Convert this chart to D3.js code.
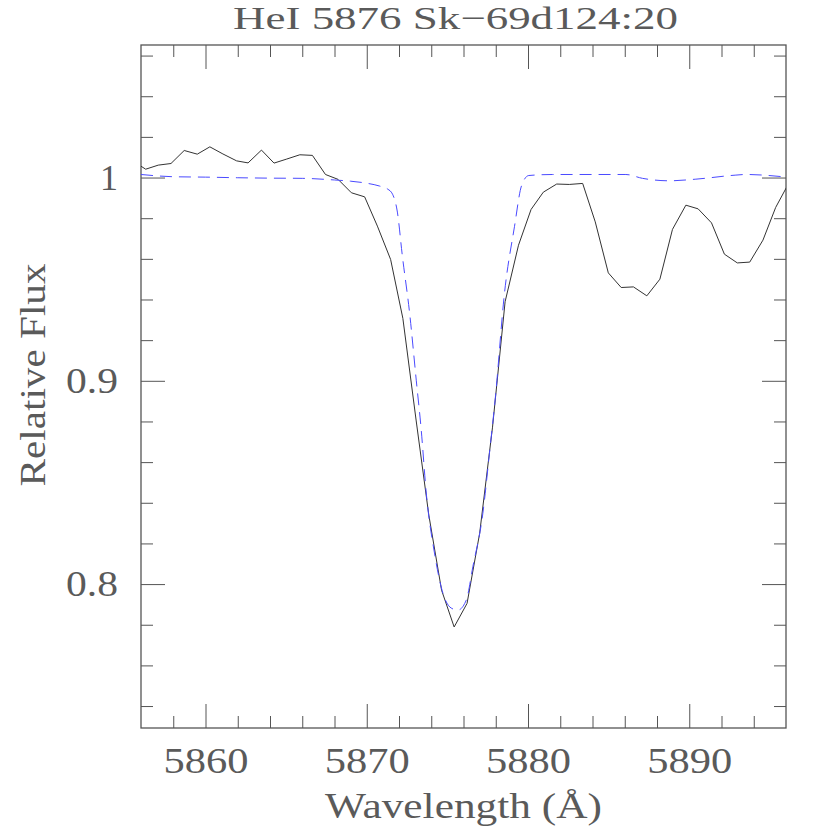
<!DOCTYPE html>
<html>
<head>
<meta charset="utf-8">
<script src="https://cdn.jsdelivr.net/npm/d3@7"></script>
<style>
  html, body { margin: 0; padding: 0; background: #fff; }
  svg { display: block; }
</style>
</head>
<body>
<div id="chart"></div>
<script>
'use strict';

// observed spectrum (black, solid)
var obsWave = [5855.50, 5856.29, 5857.07, 5857.86, 5858.68, 5859.49, 5860.27, 5861.08, 5861.93, 5862.64,
  5863.47, 5864.25, 5865.04, 5865.85, 5866.63, 5867.44, 5868.22, 5869.05, 5869.87, 5870.66,
  5871.48, 5872.24, 5873.06, 5873.85, 5874.64, 5875.42, 5876.22, 5877.00, 5877.80, 5878.58,
  5879.41, 5880.19, 5880.95, 5881.78, 5882.56, 5883.39, 5884.17, 5884.98, 5885.78, 5886.54,
  5887.37, 5888.18, 5888.96, 5889.79, 5890.55, 5891.38, 5892.18, 5892.98, 5893.75, 5894.57,
  5895.36, 5896.15];
var obsFlux = [1.0081, 1.0041, 1.0061, 1.0069, 1.0133, 1.0115, 1.0151, 1.0116, 1.0082, 1.0072,
  1.0135, 1.0071, 1.0091, 1.0112, 1.0109, 1.0015, 0.9991, 0.9925, 0.9905, 0.9761,
  0.9597, 0.9307, 0.8807, 0.8339, 0.7970, 0.7789, 0.7905, 0.8249, 0.8772, 0.9389,
  0.9667, 0.9843, 0.9928, 0.9968, 0.9966, 0.9971, 0.9782, 0.9531, 0.9459, 0.9462,
  0.9418, 0.9500, 0.9745, 0.9864, 0.9846, 0.9777, 0.9623, 0.9580, 0.9584, 0.9692,
  0.9853, 0.9969];

// model profile (blue, dashed)
var modelWave = [5856.0, 5858.0, 5860.0, 5862.0, 5864.0, 5866.0, 5868.0, 5869.0, 5870.0, 5870.8,
  5871.3, 5871.6, 5871.9, 5872.2, 5872.66, 5873.07, 5873.38, 5873.69, 5874.20, 5874.72,
  5875.24, 5875.65, 5876.17, 5876.58, 5877.20, 5877.61, 5877.98, 5878.54, 5879.16, 5879.60,
  5880.05, 5881.53, 5884.0, 5886.07, 5887.10, 5888.76, 5890.41, 5892.89, 5893.50, 5895.94];
var modelFlux = [1.0015, 1.0004, 1.0002, 0.9999, 0.9997, 0.9996, 0.9988, 0.9982, 0.9972, 0.9958,
  0.9943, 0.9918, 0.9830, 0.9620, 0.9332, 0.9003, 0.8757, 0.8448, 0.8153, 0.7956,
  0.7882, 0.7872, 0.7921, 0.8085, 0.8348, 0.8644, 0.8921, 0.9430, 0.9758, 0.9960,
  1.0010, 1.0015, 1.0015, 1.0015, 0.9996, 0.9984, 0.9992, 1.0012, 1.0015, 1.0003];

var xMajor = [5860, 5870, 5880, 5890];
var xLabels = ['5860', '5870', '5880', '5890'];
var xMinor = [5858, 5862, 5864, 5866, 5868, 5872, 5874, 5876, 5878, 5882, 5884, 5886, 5888, 5892, 5894];
var yMajor = [0.8, 0.9, 1.0];
var yLabels = ['0.8', '0.9', '1'];
var yMinor = [0.74, 0.76, 0.78, 0.82, 0.84, 0.86, 0.88, 0.92, 0.94, 0.96, 0.98, 1.02, 1.04, 1.06];

var title = 'HeI 5876 Sk\u221269d124:20';
var xTitle = 'Wavelength (\u00c5)';
var yTitle = 'Relative Flux';

var W = 830, H = 830;
var box = { left: 141, right: 786, top: 45, bottom: 728 };
var font = '"Liberation Serif", "DejaVu Serif", serif';
var ink = '#5a5a5a';

var x = d3.scaleLinear().domain([5856, 5896]).range([box.left, box.right]);
var y = d3.scaleLinear().domain([0.7292, 1.0652]).range([box.bottom, box.top]);

var svg = d3.select('#chart').append('svg')
  .attr('width', W)
  .attr('height', H);

svg.append('clipPath').attr('id', 'plotclip')
  .append('rect')
  .attr('x', box.left).attr('y', box.top)
  .attr('width', box.right - box.left)
  .attr('height', box.bottom - box.top);

// ticks on all four sides, pointing inward
function addAxis(axis, tx, ty) {
  var g = svg.append('g').attr('transform', 'translate(' + tx + ',' + ty + ')').call(axis);
  g.select('.domain').remove();
  g.selectAll('.tick line').attr('stroke', '#555').attr('stroke-width', 1);
  return g;
}

var bottomMajor = addAxis(d3.axisBottom(x).tickValues(xMajor).tickSize(-24)
  .tickFormat(function (d, i) { return xLabels[i]; }), 0, box.bottom);
addAxis(d3.axisBottom(x).tickValues(xMinor).tickSize(-12).tickFormat(''), 0, box.bottom);
addAxis(d3.axisTop(x).tickValues(xMajor).tickSize(-24).tickFormat(''), 0, box.top);
addAxis(d3.axisTop(x).tickValues(xMinor).tickSize(-12).tickFormat(''), 0, box.top);

var leftMajor = addAxis(d3.axisLeft(y).tickValues(yMajor).tickSize(-24)
  .tickFormat(function (d, i) { return yLabels[i]; }), box.left, 0);
addAxis(d3.axisLeft(y).tickValues(yMinor).tickSize(-12).tickFormat(''), box.left, 0);
addAxis(d3.axisRight(y).tickValues(yMajor).tickSize(-24).tickFormat(''), box.right, 0);
addAxis(d3.axisRight(y).tickValues(yMinor).tickSize(-12).tickFormat(''), box.right, 0);

bottomMajor.selectAll('.tick text')
  .attr('y', 45).attr('dy', 0)
  .attr('font-family', font).attr('font-size', 36)
  .attr('fill', ink)
  .attr('textLength', 85).attr('lengthAdjust', 'spacingAndGlyphs');

leftMajor.selectAll('.tick text')
  .attr('x', -23).attr('dy', '0.33em')
  .attr('font-family', font).attr('font-size', 36)
  .attr('fill', ink)
  .each(function (d, i) {
    if (yLabels[i].length > 1) {
      d3.select(this).attr('textLength', 52).attr('lengthAdjust', 'spacingAndGlyphs');
    }
  });

// frame
svg.append('rect')
  .attr('x', box.left).attr('y', box.top)
  .attr('width', box.right - box.left)
  .attr('height', box.bottom - box.top)
  .attr('fill', 'none')
  .attr('stroke', '#555')
  .attr('stroke-width', 1.3);

var obsData = obsWave.map(function (w, i) { return [w, obsFlux[i]]; });
var modelData = modelWave.map(function (w, i) { return [w, modelFlux[i]]; });

var plot = svg.append('g').attr('clip-path', 'url(#plotclip)');

plot.append('path')
  .attr('d', d3.line()
    .x(function (d) { return x(d[0]); })
    .y(function (d) { return y(d[1]); })(obsData))
  .attr('fill', 'none')
  .attr('stroke', '#333')
  .attr('stroke-width', 1);

plot.append('path')
  .attr('d', d3.line()
    .curve(d3.curveMonotoneX)
    .x(function (d) { return x(d[0]); })
    .y(function (d) { return y(d[1]); })(modelData))
  .attr('fill', 'none')
  .attr('stroke', '#4a4aff')
  .attr('stroke-width', 1)
  .attr('stroke-dasharray', '12,7');

// titles
svg.append('text')
  .attr('x', 455.5).attr('y', 29)
  .attr('text-anchor', 'middle')
  .attr('font-family', font).attr('font-size', 32)
  .attr('fill', ink)
  .attr('textLength', 445).attr('lengthAdjust', 'spacingAndGlyphs')
  .text(title);

svg.append('text')
  .attr('x', 463.5).attr('y', 818)
  .attr('text-anchor', 'middle')
  .attr('font-family', font).attr('font-size', 36)
  .attr('fill', ink)
  .attr('textLength', 277).attr('lengthAdjust', 'spacingAndGlyphs')
  .text(xTitle);

svg.append('text')
  .attr('transform', 'translate(45,375) rotate(-90)')
  .attr('text-anchor', 'middle')
  .attr('font-family', font).attr('font-size', 36)
  .attr('fill', ink)
  .attr('textLength', 223).attr('lengthAdjust', 'spacingAndGlyphs')
  .text(yTitle);
</script>
</body>
</html>
